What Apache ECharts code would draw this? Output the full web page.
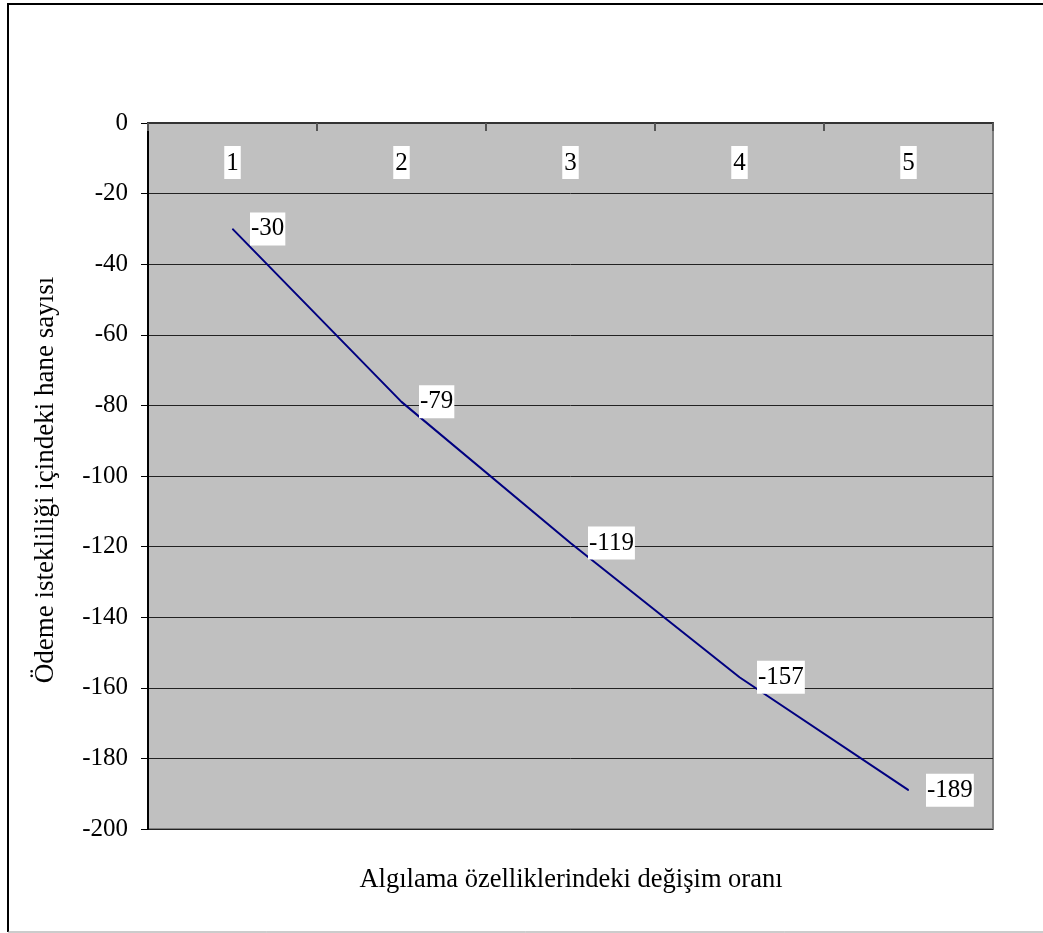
<!DOCTYPE html>
<html>
<head>
<meta charset="utf-8">
<script src="https://cdn.jsdelivr.net/npm/echarts@6/dist/echarts.min.js"></script>
<style>
html,body{margin:0;padding:0;background:#fff;}
#chart{width:1043px;height:933px;}
</style>
</head>
<body>
<div id="chart"></div>
<script>
var categories = ['1', '2', '3', '4', '5'];
var values = [-30, -79, -119, -157, -189];
var yMin = -200, yMax = 0, yStep = 20;
var xTitle = 'Algılama özelliklerindeki değişim oranı';
var yTitle = 'Ödeme istekliliği içindeki hane sayısı';

var FONT = "'Liberation Serif', 'Times New Roman', serif";
var chart = echarts.init(document.getElementById('chart'), null, {renderer: 'canvas'});
chart.setOption({
  animation: false,
  backgroundColor: '#fff',
  textStyle: {fontFamily: FONT},
  grid: {left: 148, top: 123, right: 50, bottom: 104, show: true,
         backgroundColor: '#C0C0C0', borderColor: '#808080', borderWidth: 2},
  graphic: [
    {type: 'line', shape: {x1: 8, y1: 3, x2: 8, y2: 932}, style: {stroke: '#000', lineWidth: 2}},
    {type: 'line', shape: {x1: 7, y1: 4, x2: 1043, y2: 4}, style: {stroke: '#000', lineWidth: 2}},
    {type: 'line', shape: {x1: 8, y1: 932, x2: 1043, y2: 932}, style: {stroke: '#999', lineWidth: 1}},
    {type: 'text', x: 571, y: 880,
     style: {text: xTitle, font: '26.5px ' + FONT, fill: '#000', textAlign: 'center', textVerticalAlign: 'middle'}},
    {type: 'text', x: 46, y: 480, rotation: Math.PI / 2,
     style: {text: yTitle, font: '27px ' + FONT, fill: '#000', textAlign: 'center', textVerticalAlign: 'middle'}}
  ],
  xAxis: {
    type: 'category', data: categories, position: 'top', boundaryGap: true,
    axisLine: {show: true, lineStyle: {color: '#333', width: 2}},
    axisTick: {show: true, inside: true, length: 8, lineStyle: {color: '#555', width: 2}},
    axisLabel: {inside: true, margin: 23, fontSize: 25, fontFamily: FONT, color: '#000',
                backgroundColor: '#fff', padding: [3, 2, 2, 2], lineHeight: 28},
    splitLine: {show: false}
  },
  yAxis: {
    type: 'value', min: yMin, max: yMax, interval: yStep,
    axisLine: {show: true, lineStyle: {color: '#000', width: 2}},
    axisTick: {show: true, inside: false, length: 7, lineStyle: {color: '#000', width: 1}},
    axisLabel: {margin: 20, fontSize: 25, fontFamily: FONT, color: '#000'},
    splitLine: {show: true, lineStyle: {color: '#222', width: 1}}
  },
  series: [{
    type: 'line', data: values,
    symbol: 'circle', symbolSize: 1,
    itemStyle: {color: '#000080'},
    lineStyle: {color: '#000080', width: 2},
    label: {show: true, position: 'right', distance: 17, fontSize: 25, fontFamily: FONT, color: '#000',
            backgroundColor: '#fff', padding: [3, 1, 2, 1], lineHeight: 28}
  }]
});
</script>
</body>
</html>
